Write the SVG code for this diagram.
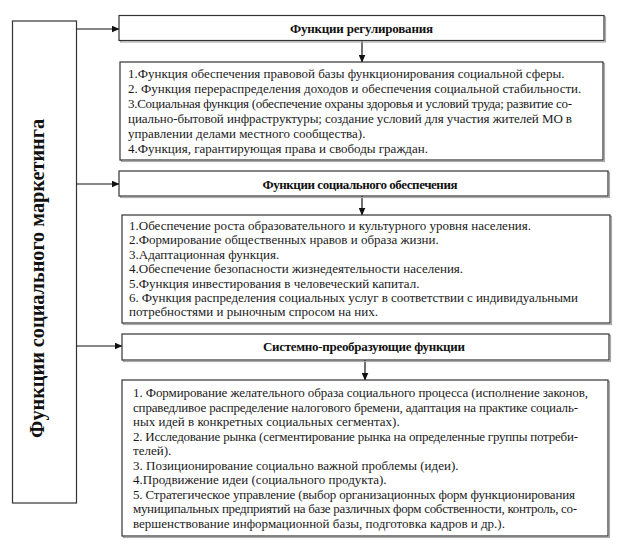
<svg xmlns="http://www.w3.org/2000/svg" width="623" height="548" viewBox="0 0 623 548">
<style>
.box{fill:#fff;stroke:#333;stroke-width:1.2}
.sh{fill:none;stroke:#aaa;stroke-width:1.2}
text{font-family:'Liberation Serif','DejaVu Serif','Times New Roman',serif}
.t{font-size:13px;fill:#1a1a1a}
.h{font-size:13px;font-weight:bold;fill:#111;text-anchor:middle}
.v{font-size:20px;font-weight:bold;fill:#111;text-anchor:middle}
.c{stroke:#111;stroke-width:1.2;fill:none}
</style>
<defs>
<marker id="ah" markerWidth="8" markerHeight="7" refX="7.5" refY="3.5" orient="auto" markerUnits="userSpaceOnUse">
<path d="M0,0 L8,3.5 L0,7 Z" fill="#111"/>
</marker>
</defs>
<rect width="623" height="548" fill="#fff"/>

<g id="root">
<rect class="box" x="12.5" y="21" width="64" height="482"/>
<text class="v" transform="translate(44,278.5) rotate(-90)" textLength="319" lengthAdjust="spacingAndGlyphs">Функции социального маркетинга</text>
</g>

<g id="connectors">
<line class="c" x1="76.5" y1="29" x2="119" y2="29" marker-end="url(#ah)"/>
<line class="c" x1="76.5" y1="184" x2="119" y2="184" marker-end="url(#ah)"/>
<line class="c" x1="76.5" y1="346" x2="122" y2="346" marker-end="url(#ah)"/>
<line class="c" x1="362" y1="40.5" x2="362" y2="62" marker-end="url(#ah)"/>
<line class="c" x1="362" y1="196" x2="362" y2="215" marker-end="url(#ah)"/>
<line class="c" x1="365" y1="360" x2="365" y2="380" marker-end="url(#ah)"/>
</g>

<g id="h1">
<rect class="sh" x="120.5" y="17" width="485" height="25"/>
<rect class="box" x="119" y="15.5" width="485" height="25"/>
<text class="h" x="361.5" y="32.5" textLength="143">Функции регулирования</text>
</g>

<g id="b1">
<rect class="sh" x="121.5" y="63.5" width="483" height="98"/>
<rect class="box" x="120" y="62" width="483" height="98"/>
<text class="t" x="128" y="78">1.Функция обеспечения правовой базы функционирования социальной сферы.</text>
<text class="t" x="128" y="93">2. Функция перераспределения доходов и обеспечения социальной стабильности.</text>
<text class="t" x="128" y="108" textLength="444">3.Социальная функция (обеспечение охраны здоровья и условий труда; развитие со-</text>
<text class="t" x="128" y="123" textLength="444">циально-бытовой инфраструктуры; создание условий для участия жителей МО в</text>
<text class="t" x="128" y="138">управлении делами местного сообщества).</text>
<text class="t" x="128" y="153">4.Функция, гарантирующая права и свободы граждан.</text>
</g>

<g id="h2">
<rect class="sh" x="120.5" y="172.5" width="489" height="25"/>
<rect class="box" x="119" y="171" width="489" height="25"/>
<text class="h" x="360" y="188.5" textLength="195">Функции социального обеспечения</text>
</g>

<g id="b2">
<rect class="sh" x="123.5" y="216.5" width="488" height="108"/>
<rect class="box" x="122" y="215" width="488" height="108"/>
<text class="t" x="129" y="230">1.Обеспечение роста образовательного и культурного уровня населения.</text>
<text class="t" x="129" y="244.4">2.Формирование общественных нравов и образа жизни.</text>
<text class="t" x="129" y="258.8">3.Адаптационная функция.</text>
<text class="t" x="129" y="273.2">4.Обеспечение безопасности жизнедеятельности населения.</text>
<text class="t" x="129" y="287.6">5.Функция инвестирования в человеческий капитал.</text>
<text class="t" x="129" y="302" textLength="449">6. Функция распределения социальных услуг в соответствии с индивидуальными</text>
<text class="t" x="129" y="316.4">потребностями и рыночным спросом на них.</text>
</g>

<g id="h3">
<rect class="sh" x="123.5" y="335.5" width="487" height="26"/>
<rect class="box" x="122" y="334" width="487" height="26"/>
<text class="h" x="364" y="351" textLength="202">Системно-преобразующие функции</text>
</g>

<g id="b3">
<rect class="sh" x="123.5" y="381.5" width="486" height="156"/>
<rect class="box" x="122" y="380" width="486" height="156"/>
<text class="t" x="133" y="397" textLength="455">1. Формирование желательного образа социального процесса (исполнение законов,</text>
<text class="t" x="133" y="411.5" textLength="445">справедливое распределение налогового бремени, адаптация на практике социаль-</text>
<text class="t" x="133" y="426.1">ных идей в конкретных социальных сегментах).</text>
<text class="t" x="133" y="440.6" textLength="445">2. Исследование рынка (сегментирование рынка на определенные группы потреби-</text>
<text class="t" x="133" y="455.2">телей).</text>
<text class="t" x="133" y="469.7">3. Позиционирование социально важной проблемы (идеи).</text>
<text class="t" x="133" y="484.3">4.Продвижение идеи (социального продукта).</text>
<text class="t" x="133" y="498.8" textLength="442">5. Стратегическое управление (выбор организационных форм функционирования</text>
<text class="t" x="133" y="513.4" textLength="444">муниципальных предприятий на базе различных форм собственности, контроль, со-</text>
<text class="t" x="133" y="528">вершенствование информационной базы, подготовка кадров и др.).</text>
</g>
</svg>
